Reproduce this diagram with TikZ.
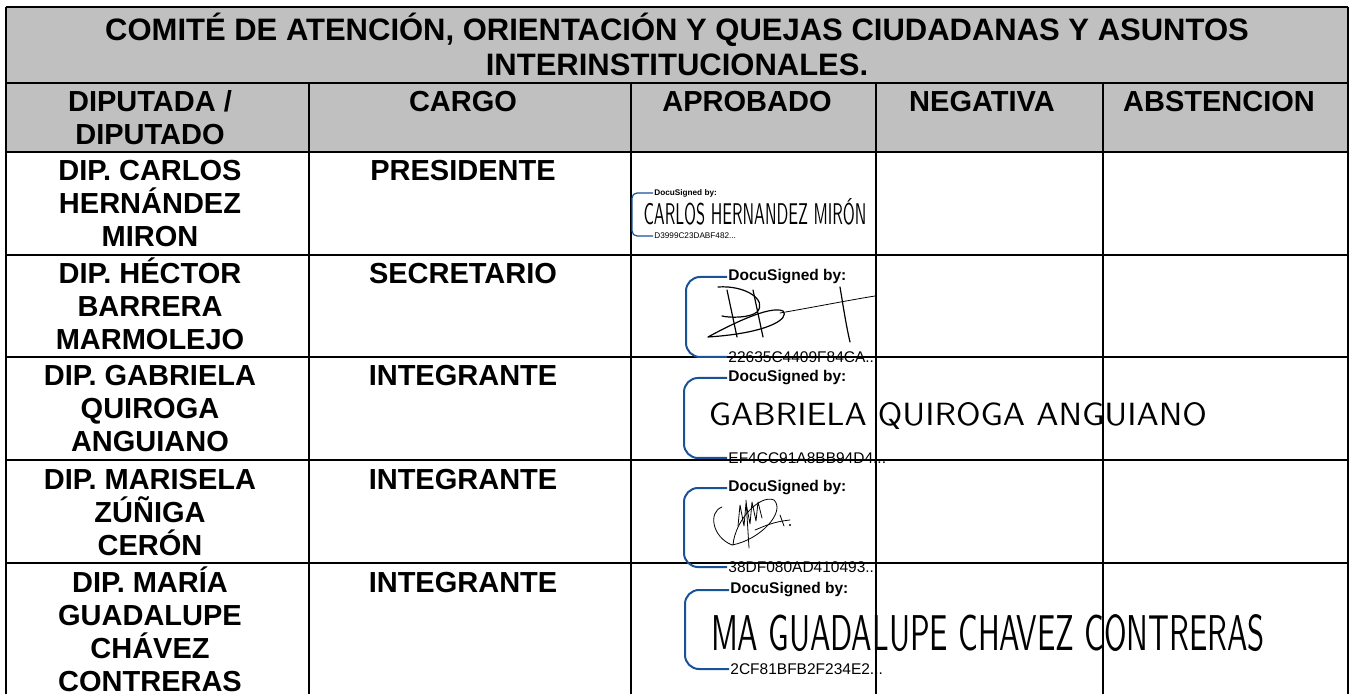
\documentclass[tikz,border=0pt]{standalone}
\usepackage{fontspec}
\usepackage{graphicx}
\setmainfont{Liberation Sans}
\newfontfamily\handfont{lmsans10-regular.otf}
\definecolor{headgray}{RGB}{192,192,192}
\definecolor{docublue}{RGB}{26,82,150}
\newcommand{\celltext}[2][160pt]{\parbox[t]{#1}{\centering #2}}

\begin{document}
\begin{tikzpicture}[x=0.5pt, y=-0.5pt]
    \tikzset{
      rule/.style = {line width=1.3pt},
      cell/.style = {anchor=base, inner sep=0pt, font=\fontsize{14.5}{16.5}\selectfont\bfseries},
      titlecell/.style = {anchor=base, inner sep=0pt, font=\fontsize{15.5}{17.5}\selectfont\bfseries},
      bracket/.style = {draw=docublue, line width=1pt, rounded corners=7pt},
      signedby/.style = {anchor=west, inner sep=0.5pt, font=\fontsize{7.75}{9}\selectfont\bfseries},
      signid/.style = {anchor=west, inner sep=0.5pt, font=\fontsize{7.75}{9}\selectfont},
      hand/.style = {anchor=base, inner sep=0pt, font=\handfont},
      scribble/.style = {line width=0.6pt, line cap=round, line join=round}
    }
    \useasboundingbox (0,0) rectangle (1353,694);

    % Header background
    \fill[headgray] (6,7) rectangle (1348,152);

    % Rules
    \foreach \y in {7,83,152,255,357,460,563}
      \draw[rule] (6,\y) -- (1348,\y);
    \draw[rule] (6,7) -- (6,694);
    \draw[rule] (1348,7) -- (1348,694);
    \foreach \x in {309,631,876,1103}
      \draw[rule] (\x,83) -- (\x,694);

    % Title and column heads
    \node[titlecell] (title) at (677,41) {\celltext[660pt]{COMITÉ DE ATENCIÓN, ORIENTACIÓN Y QUEJAS CIUDADANAS Y ASUNTOS\\INTERINSTITUCIONALES.}};
    \node[cell] (diputado) at (150,112) {\celltext{DIPUTADA /\\DIPUTADO}};
    \node[cell] (cargo) at (463,112) {CARGO};
    \node[cell] (aprobado) at (747,112) {APROBADO};
    \node[cell] (negativa) at (982,112) {NEGATIVA};
    \node[cell] (abstencion) at (1219,112) {ABSTENCION};

    % Members
    \node[cell] (carlos) at (150,181) {\celltext{DIP. CARLOS\\HERNÁNDEZ\\MIRON}};
    \node[cell] (hector) at (150,284) {\celltext{DIP. HÉCTOR\\BARRERA\\MARMOLEJO}};
    \node[cell] (gabriela) at (150,386) {\celltext{DIP. GABRIELA\\QUIROGA\\ANGUIANO}};
    \node[cell] (marisela) at (150,489) {\celltext{DIP. MARISELA\\ZÚÑIGA\\CERÓN}};
    \node[cell] (maria) at (150,592) {\celltext{DIP. MARÍA\\GUADALUPE\\CHÁVEZ\\CONTRERAS}};

    \node[cell] (presidente) at (463,181) {PRESIDENTE};
    \node[cell] (secretario) at (463,284) {SECRETARIO};
    \node[cell] (integrante1) at (463,386) {INTEGRANTE};
    \node[cell] (integrante2) at (463,489) {INTEGRANTE};
    \node[cell] (integrante3) at (463,592) {INTEGRANTE};

    % Stamps
    \node[signedby, font=\fontsize{4.1}{5}\selectfont\bfseries] (ds1) at (653,193) {DocuSigned by:};
    \node[signid, font=\fontsize{4.1}{5}\selectfont] (id1) at (653,236) {D3999C23DABF482...};
    \draw[bracket, line width=0.6pt, rounded corners=2.5pt] (ds1.west) -- ++(-21,0) |- (id1.west);
    \node[hand] (sign1) at (755,225) {\resizebox{111.5pt}{13pt}{CARLOS HERNANDEZ MIRÓN}};

    \node[signedby] (ds2) at (727,277) {DocuSigned by:};
    \node[signid] (id2) at (727,357) {22635C4409F84CA...};
    \draw[bracket] (ds2.west) -- ++(-41,0) |- (id2.west);
    \draw[scribble] (727,290) -- (737,337);
    \draw[scribble] (718,287) .. controls (745,285) and (768,300) .. (757,312) .. controls (750,318) and (730,318) .. (722,316);
    \draw[scribble] (753,290) -- (763,337);
    \draw[scribble] (708,337) .. controls (730,325) and (770,305) .. (783,311) .. controls (790,318) and (770,333) .. (708,337);
    \draw[scribble, line width=0.4pt] (780,313) .. controls (820,306) and (850,300) .. (875,296);
    \draw[scribble] (840,287) .. controls (843,305) and (846,325) .. (850,342);

    \node[signedby] (ds3) at (727,378) {DocuSigned by:};
    \node[signid] (id3) at (727,458) {EF4CC91A8BB94D4...};
    \draw[bracket] (ds3.west) -- ++(-43,0) |- (id3.west);
    \node[hand] (sign3) at (958,426) {\resizebox{249pt}{11.5pt}{GABRIELA QUIROGA ANGUIANO}};

    \node[signedby] (ds4) at (727,488) {DocuSigned by:};
    \node[signid] (id4) at (727,567) {38DF080AD410493...};
    \draw[bracket] (ds4.west) -- ++(-43,0) |- (id4.west);
    \draw[scribble, line width=0.4pt] (722,507) .. controls (708,512) and (712,537) .. (732,545) .. controls (760,540) and (786,512) .. (774,500) .. controls (760,494) and (735,520) .. (733,545);
    \draw[scribble, line width=0.4pt] (738,526) -- (740,505) -- (744,526) -- (746,503) -- (750,524) -- (752,502) -- (756,521) -- (758,502) -- (762,518);
    \draw[scribble, line width=0.4pt] (746,500) -- (749,548);
    \draw[scribble, line width=0.4pt] (755,530) .. controls (765,526) and (772,522) .. (790,520);
    \draw[scribble, line width=0.4pt] (780,515) -- (784,526);
    \fill (790,525) circle (1.2);

    \node[signedby] (ds5) at (729,590) {DocuSigned by:};
    \node[signid] (id5) at (729,669) {2CF81BFB2F234E2...};
    \draw[bracket] (ds5.west) -- ++(-44,0) |- (id5.west);
    \node[hand] (sign5) at (988,650) {\resizebox{277pt}{18pt}{MA GUADALUPE CHAVEZ CONTRERAS}};
\end{tikzpicture}
\end{document}
